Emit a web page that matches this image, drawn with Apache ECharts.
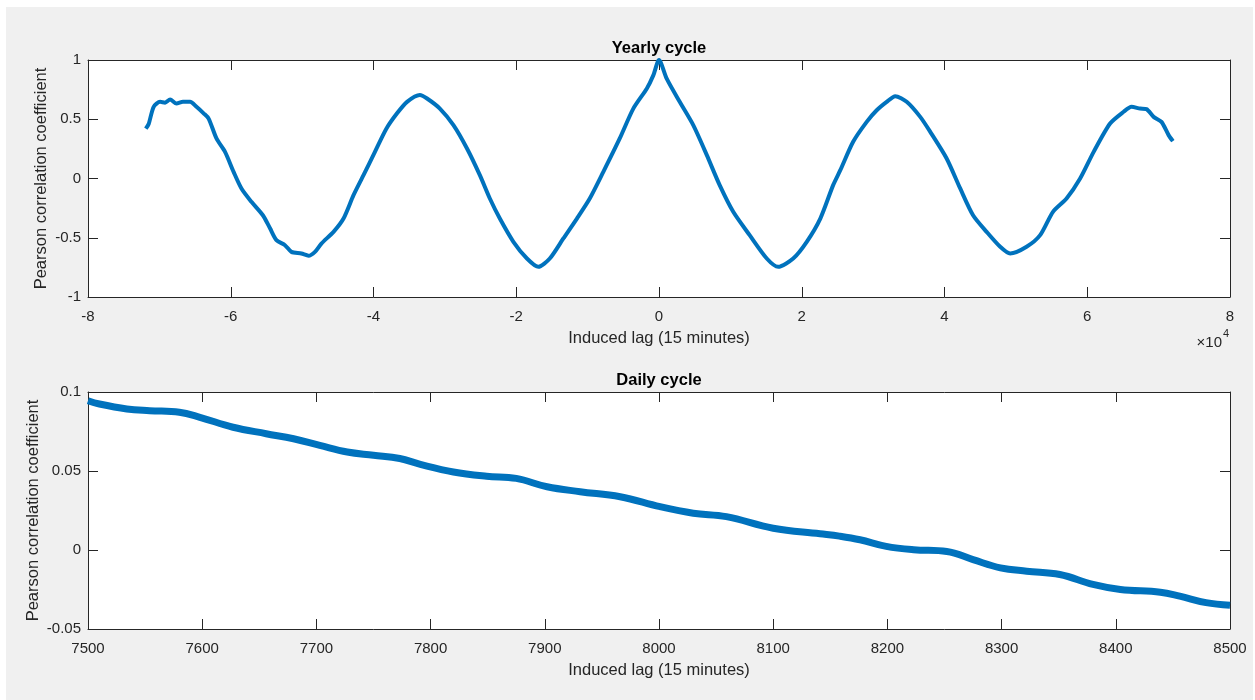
<!DOCTYPE html>
<html>
<head>
<meta charset="utf-8">
<script src="https://cdn.jsdelivr.net/npm/echarts@6.0.0/dist/echarts.min.js"></script>
<style>
  html, body { margin: 0; padding: 0; background: #ffffff; }
  #wrap { position: relative; width: 1255px; height: 700px; overflow: hidden; }
  #panel { position: absolute; left: 6px; top: 7px; width: 1247px; height: 693px; background: #f0f0f0; }
  #chart { position: absolute; left: 0; top: 0; width: 1255px; height: 700px; }
</style>
</head>
<body>
<div id="wrap">
  <div id="panel"></div>
  <div id="chart"></div>
</div>
<script>
// Yearly cycle: induced lag (15-minute steps) and Pearson correlation
const yearlyLag = [
  -71900, -71500, -70800, -69900, -69200, -68500, -67600, -66700, -65700, -64800,
  -63800, -63100, -62000, -60800, -59600, -58500, -57100, -55500, -54500, -53600,
  -52400, -51500, -50100, -49100, -48200, -47300, -45600, -44200, -42800, -41400,
  -39800, -38200, -36700, -35300, -33500, -32500, -30700, -28800, -26900, -25100,
  -23700, -22300, -20400, -18500, -16900, -15300, -13400, -11500, -9700, -7800,
  -5500, -3600, -1700, -800, 0, 1100, 2900, 4800, 6700, 8500,
  10400, 12700, 15100, 16700, 18800, 20700, 22600, 24400, 25400, 27200,
  29100, 30500, 31900, 33100, 34700, 36600, 38000, 40300, 42200, 44000,
  45900, 47800, 49200, 51500, 53400, 55200, 57100, 59000, 60900, 63200,
  65100, 66200, 67400, 68300, 69300, 70400, 71400, 72000
];
const yearlyR = [
  0.42, 0.46, 0.605, 0.647, 0.64, 0.667, 0.633, 0.647, 0.647, 0.605,
  0.55, 0.506, 0.338, 0.225, 0.056, -0.084, -0.197, -0.31, -0.42, -0.52,
  -0.563, -0.619, -0.633, -0.652, -0.619, -0.549, -0.45, -0.338, -0.141, 0.028,
  0.225, 0.42, 0.55, 0.647, 0.705, 0.675, 0.59, 0.45, 0.253, 0.028,
  -0.169, -0.338, -0.534, -0.675, -0.745, -0.675, -0.506, -0.338, -0.169, 0.056,
  0.338, 0.59, 0.76, 0.87, 1.0, 0.84, 0.647, 0.45, 0.197, -0.056,
  -0.281, -0.478, -0.675, -0.745, -0.675, -0.534, -0.338, -0.056, 0.07, 0.31,
  0.478, 0.576, 0.647, 0.695, 0.647, 0.52, 0.394, 0.169, -0.084, -0.31,
  -0.45, -0.576, -0.633, -0.576, -0.478, -0.281, -0.169, 0.0, 0.225, 0.464,
  0.563, 0.605, 0.59, 0.585, 0.52, 0.478, 0.366, 0.315
];

// Daily cycle: zoomed lag window
const dailyLag = [
  7500, 7510, 7534, 7554, 7580, 7598, 7627, 7656, 7680, 7703,
  7727, 7750, 7773, 7791, 7820, 7849, 7875, 7902, 7931, 7966,
  8001, 8030, 8059, 8100, 8141, 8158, 8176, 8199, 8223, 8252,
  8275, 8299, 8322, 8351, 8380, 8404, 8439, 8456, 8479, 8500
];
const dailyR = [
  0.0945, 0.0924, 0.0893, 0.0882, 0.0872, 0.084, 0.0777, 0.0736, 0.0704, 0.0662,
  0.062, 0.06, 0.0579, 0.0542, 0.0494, 0.0467, 0.0453, 0.04, 0.0369, 0.0337,
  0.0274, 0.0233, 0.0211, 0.0138, 0.0103, 0.0088, 0.0065, 0.0023, 0.0002, -0.0009,
  -0.0061, -0.0113, -0.0134, -0.0155, -0.0218, -0.025, -0.0267, -0.0292, -0.0333, -0.035
];

const titles = ['Yearly cycle', 'Daily cycle'];
const xName = 'Induced lag (15 minutes)';
const yName = 'Pearson correlation coefficient';

const FONT = '"Liberation Sans", Arial, Helvetica, sans-serif';
const AX = '#262626';
const LINE = '#0072BD';

function pairs(xs, ys) { return xs.map((x, i) => [x, ys[i]]); }

function axisBase(extra) {
  return Object.assign({
    type: 'value',
    axisLine: { show: true, onZero: false, lineStyle: { color: AX, width: 1 } },
    axisTick: { show: true, inside: true, length: 10, lineStyle: { color: AX, width: 1 } },
    splitLine: { show: false },
    axisLabel: { color: AX, fontFamily: FONT, fontSize: 15 }
  }, extra);
}
function mirror(extra) {
  const a = axisBase(extra);
  a.axisLabel = { show: false };
  return a;
}

const yearlyX = { min: -80000, max: 80000, interval: 20000 };
const yearlyY = { min: -1, max: 1, interval: 0.5 };
const dailyX = { min: 7500, max: 8500, interval: 100 };
const dailyY = { min: -0.05, max: 0.1, interval: 0.05 };

const nameStyle = { color: AX, fontFamily: FONT, fontSize: 16.5 };

const chart = echarts.init(document.getElementById('chart'), null, { renderer: 'canvas' });
chart.setOption({
  backgroundColor: 'transparent',
  animation: false,
  title: [
    { text: titles[0], left: 659, top: 40, textAlign: 'center', padding: 0,
      textStyle: { fontFamily: FONT, fontSize: 16.5, fontWeight: 'bold', color: '#000' } },
    { text: titles[1], left: 659, top: 372, textAlign: 'center', padding: 0,
      textStyle: { fontFamily: FONT, fontSize: 16.5, fontWeight: 'bold', color: '#000' } }
  ],
  grid: [
    { left: 88, top: 60, width: 1142, height: 237, show: true, backgroundColor: '#ffffff', borderWidth: 0 },
    { left: 88, top: 392, width: 1142, height: 237, show: true, backgroundColor: '#ffffff', borderWidth: 0 }
  ],
  xAxis: [
    axisBase(Object.assign({ gridIndex: 0, position: 'bottom', name: xName, nameLocation: 'middle',
      nameGap: 33, nameMoveOverlap: false, nameTextStyle: nameStyle,
      axisLabel: { color: AX, fontFamily: FONT, fontSize: 15, margin: 12,
        formatter: v => String(Math.round(v / 10000)) } }, yearlyX)),
    mirror(Object.assign({ gridIndex: 0, position: 'top' }, yearlyX)),
    axisBase(Object.assign({ gridIndex: 1, position: 'bottom', name: xName, nameLocation: 'middle',
      nameGap: 33, nameMoveOverlap: false, nameTextStyle: nameStyle,
      axisLabel: { color: AX, fontFamily: FONT, fontSize: 15, margin: 12,
        formatter: v => String(Math.round(v)) } }, dailyX)),
    mirror(Object.assign({ gridIndex: 1, position: 'top' }, dailyX))
  ],
  yAxis: [
    axisBase(Object.assign({ gridIndex: 0, position: 'left', name: yName, nameLocation: 'middle',
      nameGap: 38, nameMoveOverlap: false, nameTextStyle: nameStyle,
      axisLabel: { color: AX, fontFamily: FONT, fontSize: 15, margin: 7 } }, yearlyY)),
    mirror(Object.assign({ gridIndex: 0, position: 'right' }, yearlyY)),
    axisBase(Object.assign({ gridIndex: 1, position: 'left', name: yName, nameLocation: 'middle',
      nameGap: 46, nameMoveOverlap: false, nameTextStyle: nameStyle,
      axisLabel: { color: AX, fontFamily: FONT, fontSize: 15, margin: 7,
        formatter: v => String(Math.round(v * 1000) / 1000) } }, dailyY)),
    mirror(Object.assign({ gridIndex: 1, position: 'right' }, dailyY))
  ],
  series: [
    { type: 'line', xAxisIndex: 0, yAxisIndex: 0, data: pairs(yearlyLag, yearlyR),
      showSymbol: false, smooth: 0.25, lineStyle: { color: LINE, width: 4 }, z: 3 },
    { type: 'line', xAxisIndex: 2, yAxisIndex: 2, data: pairs(dailyLag, dailyR),
      showSymbol: false, smooth: 0.4, lineStyle: { color: LINE, width: 7 }, z: 3 }
  ],
  graphic: [
    { type: 'text', x: 1222, y: 335, z: 10,
      style: { text: '\u00d710', fill: AX, font: '15px ' + FONT, textAlign: 'right', textVerticalAlign: 'top' } },
    { type: 'text', x: 1223, y: 328, z: 10,
      style: { text: '4', fill: AX, font: '11px ' + FONT, textAlign: 'left', textVerticalAlign: 'top' } }
  ]
});
</script>
</body>
</html>
